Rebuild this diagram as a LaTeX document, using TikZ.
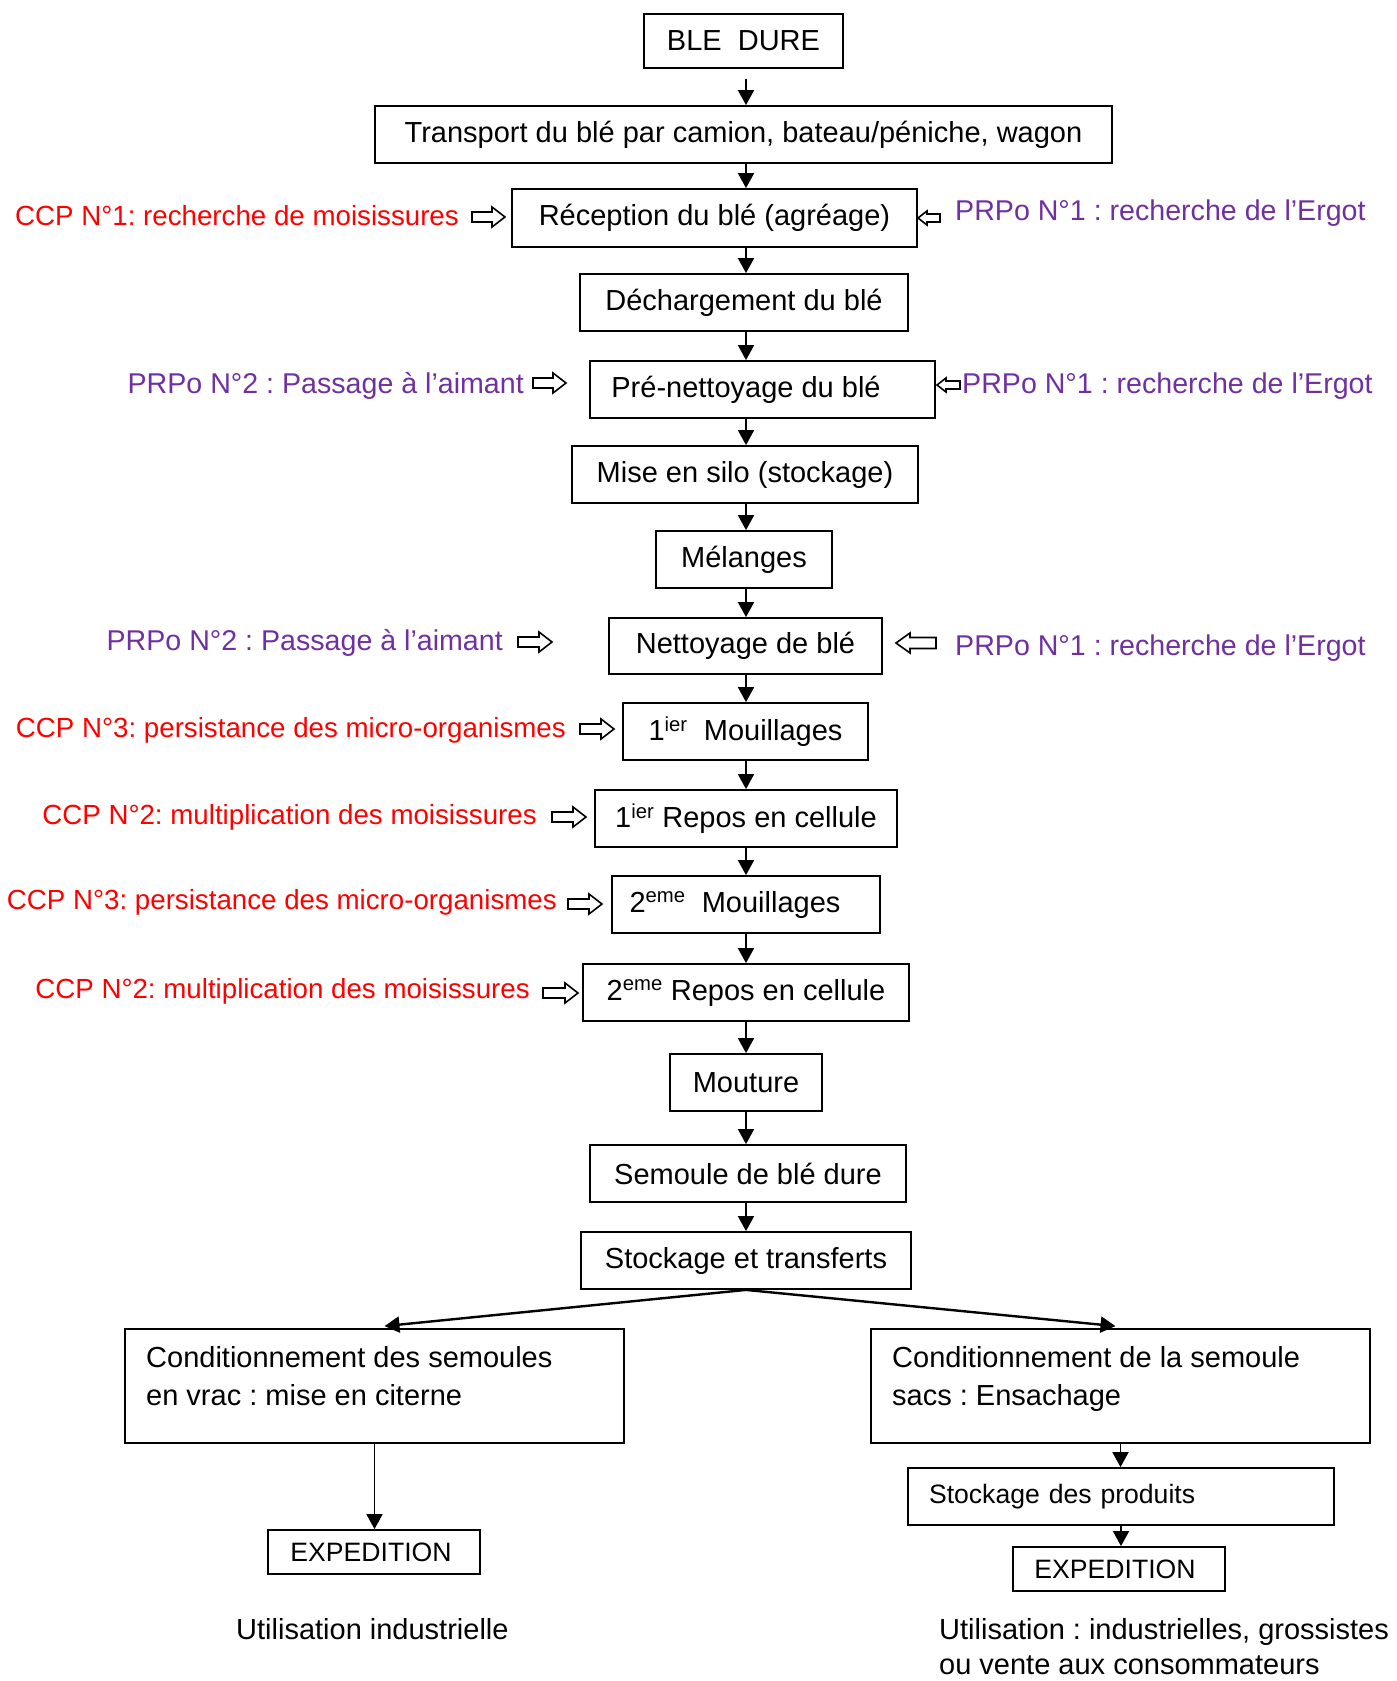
\documentclass[tikz,border=0pt]{standalone}
\usepackage{fontspec}
\setmainfont{Liberation Sans}
\usetikzlibrary{arrows.meta}
\definecolor{ccpred}{RGB}{255,0,0}
\definecolor{prpurple}{RGB}{112,48,160}
\frenchspacing
\newcommand\hollowarr[6]{% tail x, tip x, y, shaft half, head half, head length (signed)
  \draw[hollow] ({#1},{#3-#4}) -- ({#2-(#6)},{#3-#4}) -- ({#2-(#6)},{#3-#5}) -- ({#2},{#3})
    -- ({#2-(#6)},{#3+#5}) -- ({#2-(#6)},{#3+#4}) -- ({#1},{#3+#4}) -- cycle;}
\begin{document}
\frenchspacing
\begin{tikzpicture}[x=1pt,y=-1pt,
  box/.style={draw, line width=1.8pt, inner sep=0pt, font=\fontsize{29}{35}\selectfont},
  smallbox/.style={draw, line width=1.8pt, inner sep=0pt, font=\fontsize{26.6}{32}\selectfont},
  conn/.style={line width=1.8pt, -{Triangle[length=15pt,width=16pt]}},
  bigconn/.style={line width=2.4pt, -{Triangle[length=15pt,width=16pt]}},
  ccp/.style={text=ccpred, inner sep=0pt, font=\fontsize{27.7}{33}\selectfont},
  prp/.style={text=prpurple, inner sep=0pt, font=\fontsize{28.6}{34}\selectfont},
  hollow/.style={draw, line width=1.6pt, fill=white, line join=miter},
  plain/.style={inner sep=0pt, font=\fontsize{29}{35}\selectfont},
]
\useasboundingbox (0,0) rectangle (1397,1681);
\coordinate (ax) at (746,0);

% main chain
\node[box, minimum width=199pt, minimum height=54pt] (ble) at (743.5,41) {BLE\ \ DURE};
\node[box, minimum width=737pt, minimum height=57pt] (trans) at (743.5,134.5) {Transport du blé par camion, bateau/péniche, wagon};
\node[box, minimum width=405pt, minimum height=58pt] (recep) at (714.5,218) {Réception du blé (agréage)};
\node[box, minimum width=328pt, minimum height=57pt] (decharg) at (744,302.5) {Déchargement du blé};
\node[box, minimum width=345pt, minimum height=57pt] (prenet) at (762.5,389.5) {\hspace*{-33pt}Pré-nettoyage du blé};
\node[box, minimum width=346pt, minimum height=57pt] (silo) at (745,474.5) {Mise en silo (stockage)};
\node[box, minimum width=176pt, minimum height=57pt] (melange) at (744,559.5) {Mélanges};
\node[box, minimum width=273pt, minimum height=56pt] (nettoy) at (745.5,646) {Nettoyage de blé};
\node[box, minimum width=245pt, minimum height=57pt] (mouil1) at (745.5,731.5) {1\textsuperscript{ier}\ \ Mouillages};
\node[box, minimum width=302pt, minimum height=57pt] (repos1) at (746,818.5) {1\textsuperscript{ier} Repos en cellule};
\node[box, minimum width=268pt, minimum height=57pt] (mouil2) at (746,904.5) {\hspace*{-22pt}2\textsuperscript{eme}\ \ Mouillages};
\node[box, minimum width=326pt, minimum height=57pt] (repos2) at (746,992.5) {2\textsuperscript{eme} Repos en cellule};
\node[box, minimum width=152pt, minimum height=57pt] (mouture) at (746,1082.5) {Mouture};
\node[box, minimum width=316pt, minimum height=57pt] (semoule) at (748,1173.5) {Semoule de blé dure};
\node[box, minimum width=330pt, minimum height=57pt] (stock) at (746,1260.5) {Stockage et transferts};

% branches
\node[box, minimum width=499pt, minimum height=114pt] (condL) at (374.5,1386) {};
\node[plain, anchor=base west] (condLa) at (146,1367) {Conditionnement des semoules};
\node[plain, anchor=base west] (condLb) at (146,1405) {en vrac : mise en citerne};
\node[box, minimum width=499pt, minimum height=114pt] (condR) at (1120.5,1386) {};
\node[plain, anchor=base west] (condRa) at (892,1367) {Conditionnement de la semoule};
\node[plain, anchor=base west] (condRb) at (892,1405) {sacs : Ensachage};
\node[smallbox, minimum width=426pt, minimum height=57pt, text width=384pt, inner xsep=21pt, align=left] (stockP) at (1121,1496.5) {Stockage des produits};
\node[smallbox, minimum width=212pt, minimum height=44pt] (expL) at (374,1552) {\hspace*{-6pt}EXPEDITION};
\node[smallbox, minimum width=212pt, minimum height=44pt] (expR) at (1119,1569) {\hspace*{-8pt}EXPEDITION};
\node[plain, anchor=base west] (useL) at (236,1639) {Utilisation industrielle};
\node[plain, anchor=base west] (useRa) at (939,1639) {Utilisation : industrielles, grossistes};
\node[plain, anchor=base west] (useRb) at (939,1674) {ou vente aux consommateurs};

% connectors
\draw[conn] ([yshift=-10pt]ble.south -| ax) -- (trans.north -| ax);
\foreach \a/\b in {trans/recep, recep/decharg, decharg/prenet, prenet/silo, silo/melange,
  melange/nettoy, nettoy/mouil1, mouil1/repos1, repos1/mouil2, mouil2/repos2,
  repos2/mouture, mouture/semoule, semoule/stock}
  \draw[conn] (\a.south -| ax) -- (\b.north -| ax);
\draw[bigconn] (stock.south) -- ([xshift=10pt,yshift=2pt]condL.north);
\draw[bigconn] (stock.south) -- ([xshift=-5pt,yshift=2pt]condR.north);
\draw[conn] (condL.south) -- (condL.south |- expL.north);
\draw[conn] (condR.south) -- (condR.south |- stockP.north);
\draw[conn] (stockP.south) -- (stockP.south |- expR.north);

% side annotations
\node[ccp, anchor=east] (ccp1) at (459,216) {CCP N°1: recherche de moisissures};
\node[prp, anchor=west] (prp1a) at (955,213) {PRPo N°1 : recherche de l’Ergot};
\node[prp, anchor=east] (prp2a) at (524,386) {PRPo N°2 : Passage à l’aimant};
\node[prp, anchor=west] (prp1b) at (962,386) {PRPo N°1 : recherche de l’Ergot};
\node[prp, anchor=east] (prp2b) at (503,643) {PRPo N°2 : Passage à l’aimant};
\node[prp, anchor=west] (prp1c) at (955,648) {PRPo N°1 : recherche de l’Ergot};
\node[ccp, anchor=east] (ccp3a) at (566,730) {CCP N°3: persistance des micro-organismes};
\node[ccp, anchor=east] (ccp2a) at (537,817) {CCP N°2: multiplication des moisissures};
\node[ccp, anchor=east] (ccp3b) at (557,902) {CCP N°3: persistance des micro-organismes};
\node[ccp, anchor=east] (ccp2b) at (530,991) {CCP N°2: multiplication des moisissures};

% hollow arrows
\hollowarr{472}{505}{217}{5}{10}{13}
\hollowarr{533}{566}{383}{5}{10}{13}
\hollowarr{518}{552}{642}{5}{10}{13}
\hollowarr{580}{614}{729}{5}{10}{13}
\hollowarr{552}{586}{817}{5}{10}{13}
\hollowarr{568}{602}{904}{5}{10}{13}
\hollowarr{543}{578}{993}{5}{10}{13}
\hollowarr{940}{918}{218}{4}{7}{-9}
\hollowarr{960}{937}{385}{4}{7}{-9}
\hollowarr{936}{896}{643}{5.5}{10}{-14}
\end{tikzpicture}
\end{document}
